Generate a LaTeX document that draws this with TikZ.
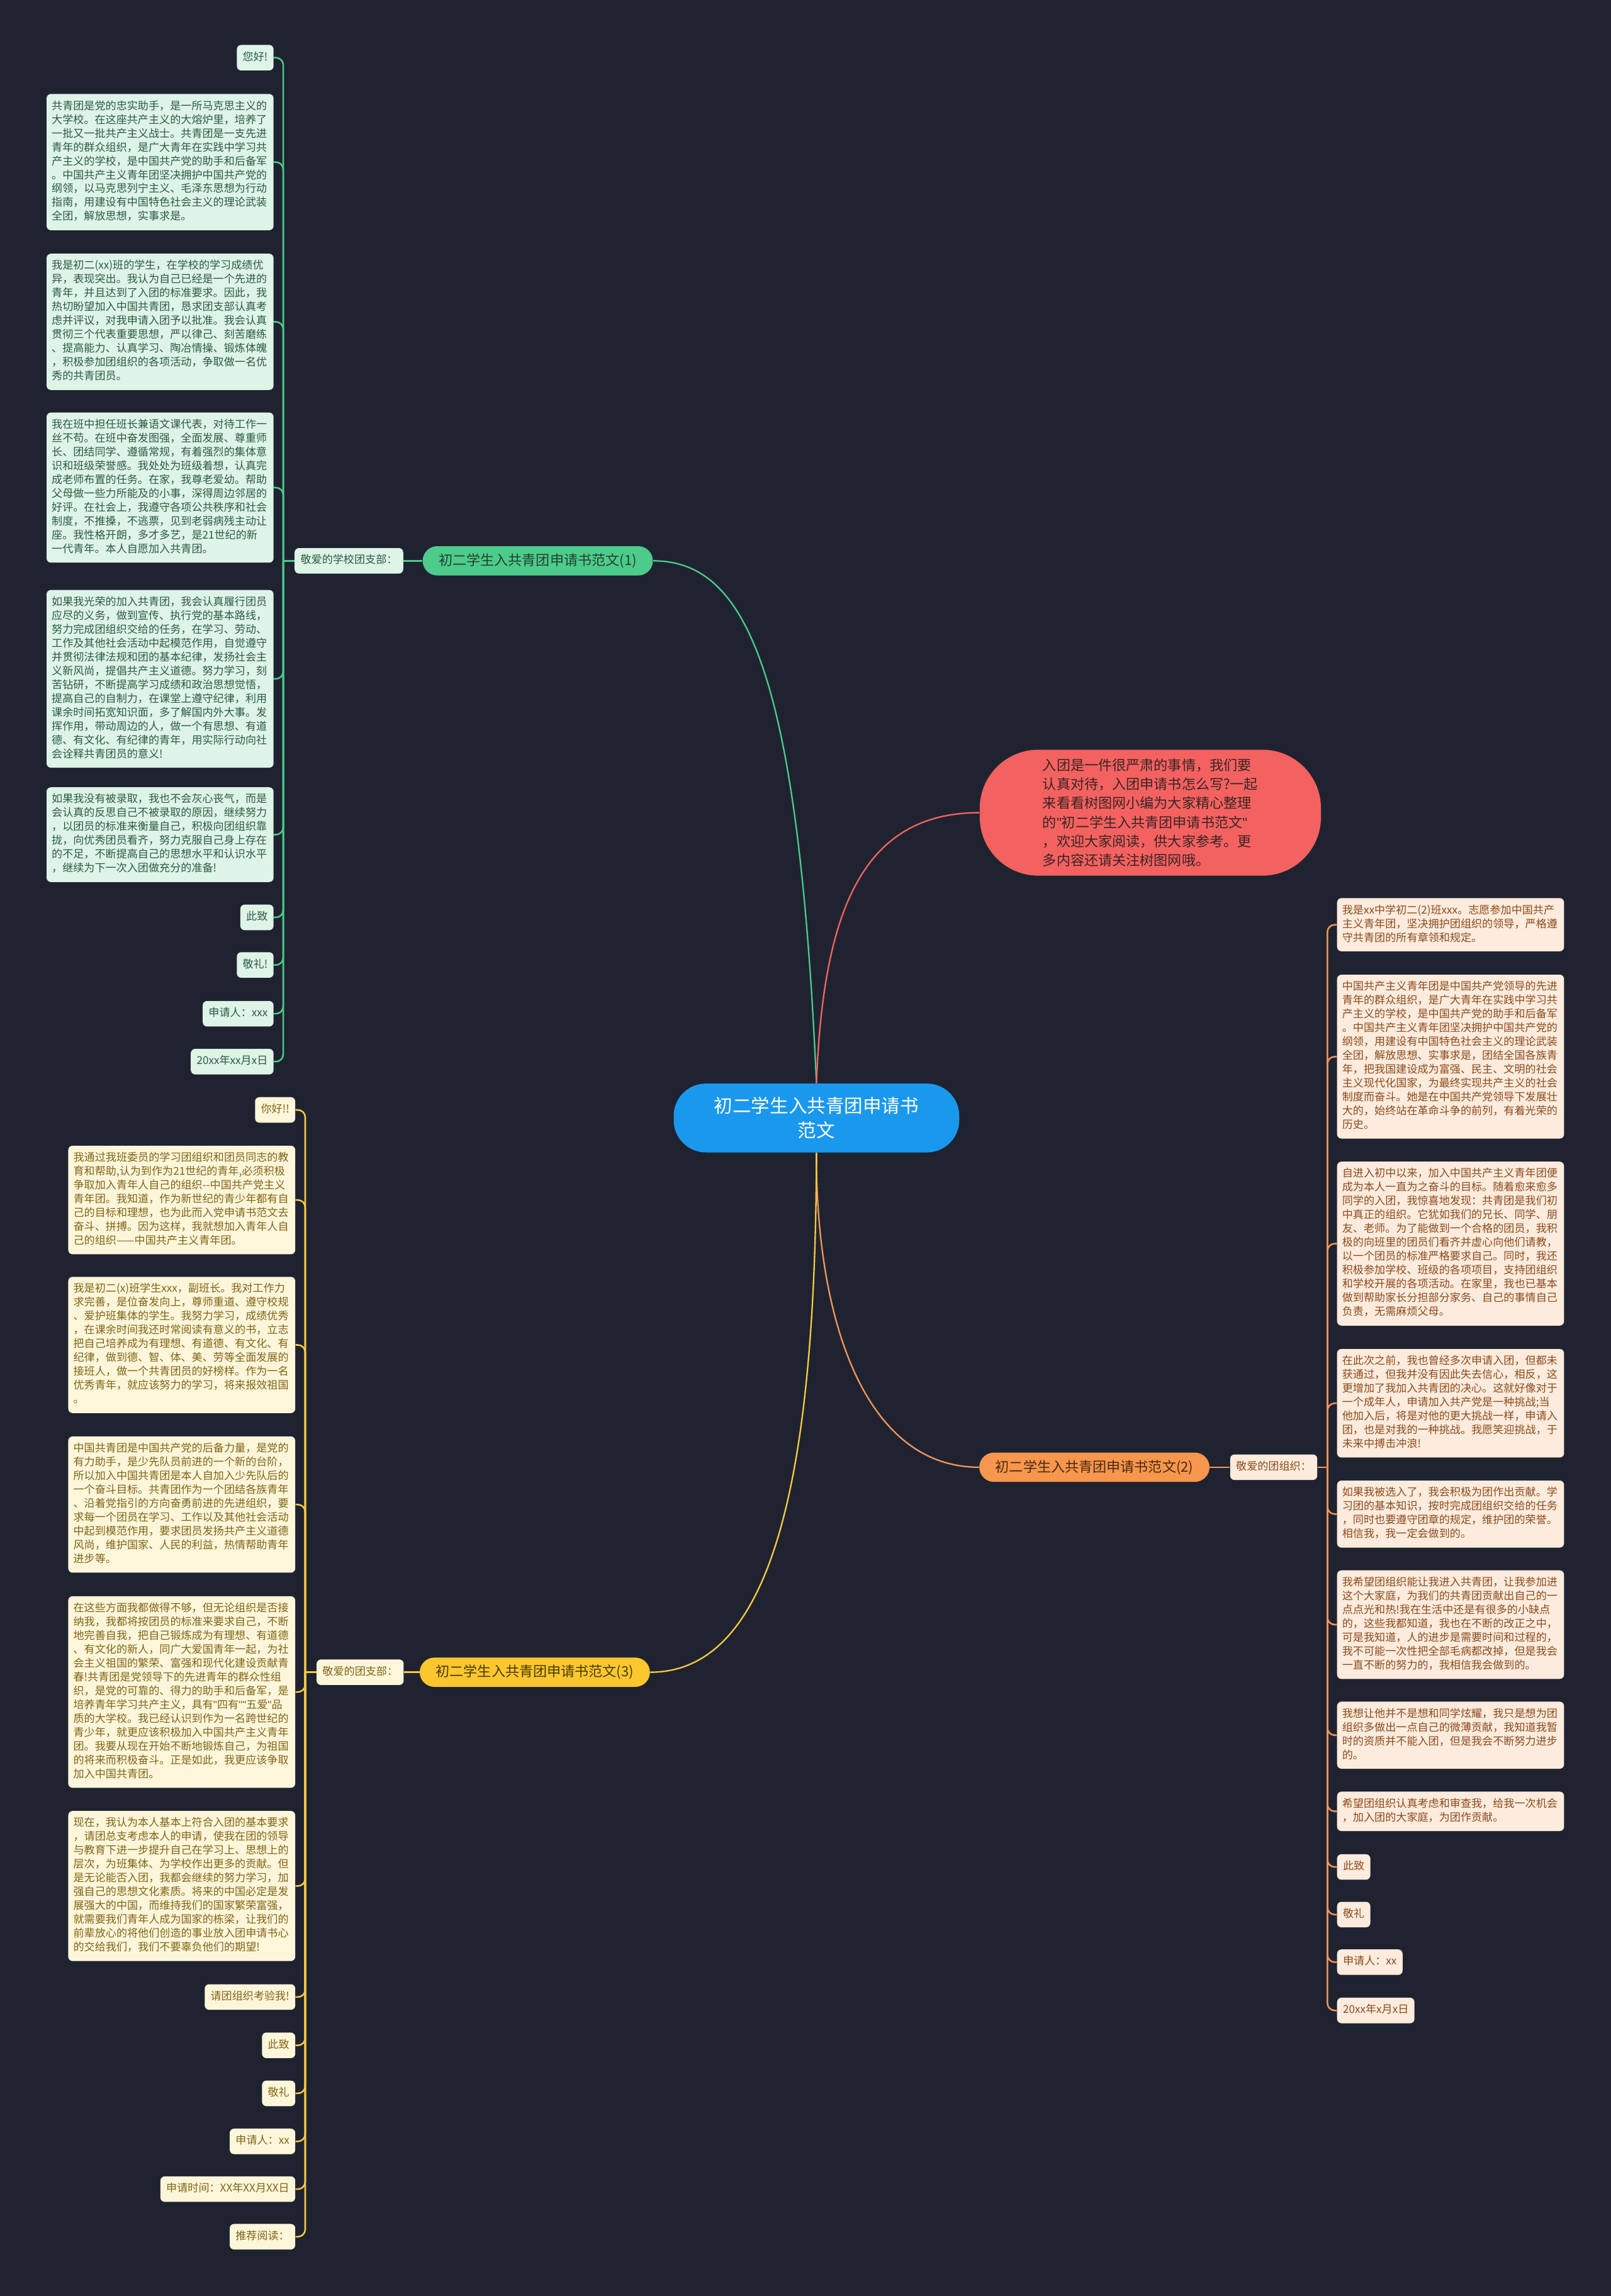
\documentclass[tikz,border=0pt]{standalone}
\usepackage{fontspec}
\setmainfont{Noto Sans CJK SC}
\newfontfamily\qfont{Liberation Sans}
\newcommand{\qq}{{\qfont"}}
\definecolor{bg}{HTML}{1F2330}
\definecolor{cblue}{HTML}{1A98EE}
\definecolor{cred}{HTML}{F36260}
\definecolor{credtext}{HTML}{3A2424}
\definecolor{gpill}{HTML}{4CCB8B}
\definecolor{gpilltext}{HTML}{22402F}
\definecolor{gfill}{HTML}{DDF4E7}
\definecolor{gtext}{HTML}{2E5A43}
\definecolor{gl}{HTML}{4CC98A}
\definecolor{opill}{HTML}{F7964D}
\definecolor{opilltext}{HTML}{4A2A10}
\definecolor{ofill}{HTML}{FDEBDD}
\definecolor{otext}{HTML}{8A4B1C}
\definecolor{ol}{HTML}{F0955A}
\definecolor{ypill}{HTML}{FAC72E}
\definecolor{ypilltext}{HTML}{4A3A05}
\definecolor{yfill}{HTML}{FDF6DA}
\definecolor{ytext}{HTML}{806418}
\definecolor{yl}{HTML}{F5C842}
\tikzset{
  leafbase/.style={rounded corners=3pt, inner xsep=4pt, inner ysep=4pt,
    font=\fontsize{7.35}{9.45}\selectfont, align=left,
    execute at begin node=\strut, execute at end node=\strut},
  wide/.style={text width=148pt, inner xsep=3.5pt},
  gleaf/.style={leafbase, fill=gfill, text=gtext, anchor=east},
  oleaf/.style={leafbase, fill=ofill, text=otext, anchor=west},
  yleaf/.style={leafbase, fill=yfill, text=ytext, anchor=east},
  pill/.style={rounded corners=10pt, minimum height=20pt, inner xsep=11pt, inner ysep=2pt,
    font=\fontsize{9.5}{11}\selectfont},
  gline/.style={draw=gl, line width=1.1pt},
  oline/.style={draw=ol, line width=1.1pt},
  yline/.style={draw=yl, line width=1.1pt},
  elbow/.style={rounded corners=5pt},
}
\begin{document}
\begin{tikzpicture}[x=1pt,y=-1pt]
\useasboundingbox (0,0) rectangle (1100,1568);
\fill[bg] (0,0) rectangle (1100,1568);

% center and intro
\node[fill=cblue, text=white, rounded corners=22pt, minimum width=195pt, minimum height=47pt,
  align=center, font=\fontsize{12.7}{17}\selectfont] (ctr) at (557.5,763.5)
  {初二学生入共青团申请书\\范文};
\node[fill=cred, text=credtext, rounded corners=40pt, minimum width=233pt, minimum height=86pt,
  align=left, font=\fontsize{9.5}{13}\selectfont] (intro) at (785.5,555)
  {入团是一件很严肃的事情，我们要\\认真对待，入团申请书怎么写?一起\\来看看树图网小编为大家精心整理\\的\qq 初二学生入共青团申请书范文\qq\\，欢迎大家阅读，供大家参考。更\\多内容还请关注树图网哦。};

% ---------------- green branch (1)
\node[pill, fill=gpill, text=gpilltext, anchor=east] (gP) at (446,383) {初二学生入共青团申请书范文(1)};
\node[leafbase, fill=gfill, text=gtext, anchor=west] (gL) at (201,383) {敬爱的学校团支部：};
\coordinate (gJ) at (193.4,383);

\node[gleaf] (g0) at (187,39.4) {您好!};
\node[gleaf, wide] (g1) at (187,110.7) {共青团是党的忠实助手，是一所马克思主义的\\大学校。在这座共产主义的大熔炉里，培养了\\一批又一批共产主义战士。共青团是一支先进\\青年的群众组织，是广大青年在实践中学习共\\产主义的学校，是中国共产党的助手和后备军\\。中国共产主义青年团坚决拥护中国共产党的\\纲领，以马克思列宁主义、毛泽东思想为行动\\指南，用建设有中国特色社会主义的理论武装\\全团，解放思想，实事求是。};
\node[gleaf, wide] (g2) at (187,219.8) {我是初二(xx)班的学生，在学校的学习成绩优\\异，表现突出。我认为自己已经是一个先进的\\青年，并且达到了入团的标准要求。因此，我\\热切盼望加入中国共青团，恳求团支部认真考\\虑并评议，对我申请入团予以批准。我会认真\\贯彻三个代表重要思想，严以律己、刻苦磨练\\、提高能力、认真学习、陶冶情操、锻炼体魄\\，积极参加团组织的各项活动，争取做一名优\\秀的共青团员。};
\node[gleaf, wide] (g3) at (187,333) {我在班中担任班长兼语文课代表，对待工作一\\丝不苟。在班中奋发图强，全面发展、尊重师\\长、团结同学、遵循常规，有着强烈的集体意\\识和班级荣誉感。我处处为班级着想，认真完\\成老师布置的任务。在家，我尊老爱幼。帮助\\父母做一些力所能及的小事，深得周边邻居的\\好评。在社会上，我遵守各项公共秩序和社会\\制度，不推搡，不逃票，见到老弱病残主动让\\座。我性格开朗，多才多艺，是21世纪的新\\一代青年。本人自愿加入共青团。};
\node[gleaf, wide] (g4) at (187,463.6) {如果我光荣的加入共青团，我会认真履行团员\\应尽的义务，做到宣传、执行党的基本路线，\\努力完成团组织交给的任务，在学习、劳动、\\工作及其他社会活动中起模范作用，自觉遵守\\并贯彻法律法规和团的基本纪律，发扬社会主\\义新风尚，提倡共产主义道德。努力学习，刻\\苦钻研，不断提高学习成绩和政治思想觉悟，\\提高自己的自制力，在课堂上遵守纪律，利用\\课余时间拓宽知识面，多了解国内外大事。发\\挥作用，带动周边的人，做一个有思想、有道\\德、有文化、有纪律的青年，用实际行动向社\\会诠释共青团员的意义!};
\node[gleaf, wide] (g5) at (187,570) {如果我没有被录取，我也不会灰心丧气，而是\\会认真的反思自己不被录取的原因，继续努力\\，以团员的标准来衡量自己，积极向团组织靠\\拢，向优秀团员看齐，努力克服自己身上存在\\的不足，不断提高自己的思想水平和认识水平\\，继续为下一次入团做充分的准备!};
\node[gleaf] (g6) at (187,626.5) {此致};
\node[gleaf] (g7) at (187,659) {敬礼!};
\node[gleaf] (g8) at (187,692.3) {申请人：xxx};
\node[gleaf] (g9) at (187,725) {20xx年xx月x日};

\draw[gline] (gL.east) -- (gP.west);
\draw[gline] (gL.west) -- (gJ);
\foreach \n in {g0,g1,g2,g3,g4,g5,g6,g7,g8,g9}
  \draw[gline, elbow] (gJ) |- (\n.east);

% ---------------- orange branch (2)
\node[pill, fill=opill, text=opilltext, anchor=west] (oP) at (668.5,1002) {初二学生入共青团申请书范文(2)};
\node[leafbase, fill=ofill, text=otext, anchor=west] (oL) at (839.8,1002) {敬爱的团组织：};
\coordinate (oJ) at (906.4,1002);

\node[oleaf, wide] (o1) at (912.8,631.5) {我是xx中学初二(2)班xxx。志愿参加中国共产\\主义青年团，坚决拥护团组织的领导，严格遵\\守共青团的所有章领和规定。};
\node[oleaf, wide] (o2) at (912.8,721.6) {中国共产主义青年团是中国共产党领导的先进\\青年的群众组织，是广大青年在实践中学习共\\产主义的学校，是中国共产党的助手和后备军\\。中国共产主义青年团坚决拥护中国共产党的\\纲领，用建设有中国特色社会主义的理论武装\\全团，解放思想、实事求是，团结全国各族青\\年，把我国建设成为富强、民主、文明的社会\\主义现代化国家，为最终实现共产主义的社会\\制度而奋斗。她是在中国共产党领导下发展壮\\大的，始终站在革命斗争的前列，有着光荣的\\历史。};
\node[oleaf, wide] (o3) at (912.8,849.3) {自进入初中以来，加入中国共产主义青年团便\\成为本人一直为之奋斗的目标。随着愈来愈多\\同学的入团，我惊喜地发现：共青团是我们初\\中真正的组织。它犹如我们的兄长、同学、朋\\友、老师。为了能做到一个合格的团员，我积\\极的向班里的团员们看齐并虚心向他们请教，\\以一个团员的标准严格要求自己。同时，我还\\积极参加学校、班级的各项项目，支持团组织\\和学校开展的各项活动。在家里，我也已基本\\做到帮助家长分担部分家务、自己的事情自己\\负责，无需麻烦父母。};
\node[oleaf, wide] (o4) at (912.8,958.3) {在此次之前，我也曾经多次申请入团，但都未\\获通过，但我并没有因此失去信心，相反，这\\更增加了我加入共青团的决心。这就好像对于\\一个成年人，申请加入共产党是一种挑战;当\\他加入后，将是对他的更大挑战一样，申请入\\团，也是对我的一种挑战。我愿笑迎挑战，于\\未来中搏击冲浪!};
\node[oleaf, wide] (o5) at (912.8,1034) {如果我被选入了，我会积极为团作出贡献。学\\习团的基本知识，按时完成团组织交给的任务\\，同时也要遵守团章的规定，维护团的荣誉。\\相信我，我一定会做到的。};
\node[oleaf, wide] (o6) at (912.8,1109.5) {我希望团组织能让我进入共青团，让我参加进\\这个大家庭，为我们的共青团贡献出自己的一\\点点光和热!我在生活中还是有很多的小缺点\\的，这些我都知道，我也在不断的改正之中，\\可是我知道，人的进步是需要时间和过程的，\\我不可能一次性把全部毛病都改掉，但是我会\\一直不断的努力的，我相信我会做到的。};
\node[oleaf, wide] (o7) at (912.8,1185) {我想让他并不是想和同学炫耀，我只是想为团\\组织多做出一点自己的微薄贡献，我知道我暂\\时的资质并不能入团，但是我会不断努力进步\\的。};
\node[oleaf, wide] (o8) at (912.8,1237) {希望团组织认真考虑和审查我，给我一次机会\\，加入团的大家庭，为团作贡献。};
\node[oleaf] (o9) at (912.8,1275) {此致};
\node[oleaf] (o10) at (912.8,1307.5) {敬礼};
\node[oleaf] (o11) at (912.8,1340) {申请人：xx};
\node[oleaf] (o12) at (912.8,1373) {20xx年x月x日};

\draw[oline] (oP.east) -- (oL.west);
\draw[oline] (oL.east) -- (oJ);
\foreach \n in {o1,o2,o3,o4,o5,o6,o7,o8,o9,o10,o11,o12}
  \draw[oline, elbow] (oJ) |- (\n.west);

% ---------------- yellow branch (3)
\node[pill, fill=ypill, text=ypilltext, anchor=east] (yP) at (444,1142) {初二学生入共青团申请书范文(3)};
\node[leafbase, fill=yfill, text=ytext, anchor=west] (yL) at (216,1142) {敬爱的团支部：};
\coordinate (yJ) at (208.4,1142);

\node[yleaf] (y0) at (201.8,758) {你好!!};
\node[yleaf, wide] (y1) at (201.8,819.5) {我通过我班委员的学习团组织和团员同志的教\\育和帮助,认为到作为21世纪的青年,必须积极\\争取加入青年人自己的组织-{}-中国共产党主义\\青年团。我知道，作为新世纪的青少年都有自\\己的目标和理想，也为此而入党申请书范文去\\奋斗、拼搏。因为这样，我就想加入青年人自\\己的组织——中国共产主义青年团。};
\node[yleaf, wide] (y2) at (201.8,918.5) {我是初二(x)班学生xxx，副班长。我对工作力\\求完善，是位奋发向上，尊师重道、遵守校规\\、爱护班集体的学生。我努力学习，成绩优秀\\，在课余时间我还时常阅读有意义的书，立志\\把自己培养成为有理想、有道德、有文化、有\\纪律，做到德、智、体、美、劳等全面发展的\\接班人，做一个共青团员的好榜样。作为一名\\优秀青年，就应该努力的学习，将来报效祖国\\。};
\node[yleaf, wide] (y3) at (201.8,1027.5) {中国共青团是中国共产党的后备力量，是党的\\有力助手，是少先队员前进的一个新的台阶，\\所以加入中国共青团是本人自加入少先队后的\\一个奋斗目标。共青团作为一个团结各族青年\\、沿着党指引的方向奋勇前进的先进组织，要\\求每一个团员在学习、工作以及其他社会活动\\中起到模范作用，要求团员发扬共产主义道德\\风尚，维护国家、人民的利益，热情帮助青年\\进步等。};
\node[yleaf, wide] (y4) at (201.8,1155.5) {在这些方面我都做得不够，但无论组织是否接\\纳我，我都将按团员的标准来要求自己，不断\\地完善自我，把自己锻炼成为有理想、有道德\\、有文化的新人，同广大爱国青年一起，为社\\会主义祖国的繁荣、富强和现代化建设贡献青\\春!共青团是党领导下的先进青年的群众性组\\织，是党的可靠的、得力的助手和后备军，是\\培养青年学习共产主义，具有\qq 四有\qq\qq 五爱\qq 品\\质的大学校。我已经认识到作为一名跨世纪的\\青少年，就更应该积极加入中国共产主义青年\\团。我要从现在开始不断地锻炼自己，为祖国\\的将来而积极奋斗。正是如此，我更应该争取\\加入中国共青团。};
\node[yleaf, wide] (y5) at (201.8,1288) {现在，我认为本人基本上符合入团的基本要求\\，请团总支考虑本人的申请，使我在团的领导\\与教育下进一步提升自己在学习上、思想上的\\层次，为班集体、为学校作出更多的贡献。但\\是无论能否入团，我都会继续的努力学习，加\\强自己的思想文化素质。将来的中国必定是发\\展强大的中国，而维持我们的国家繁荣富强，\\就需要我们青年人成为国家的栋梁，让我们的\\前辈放心的将他们创造的事业放入团申请书心\\的交给我们，我们不要辜负他们的期望!};
\node[yleaf] (y6) at (201.8,1363.8) {请团组织考验我!};
\node[yleaf] (y7) at (201.8,1396.8) {此致};
\node[yleaf] (y8) at (201.8,1429.6) {敬礼};
\node[yleaf] (y9) at (201.8,1462.4) {申请人：xx};
\node[yleaf] (y10) at (201.8,1495) {申请时间：XX年XX月XX日};
\node[yleaf] (y11) at (201.8,1527.5) {推荐阅读：};

\draw[yline] (yL.east) -- (yP.west);
\draw[yline] (yL.west) -- (yJ);
\foreach \n in {y0,y1,y2,y3,y4,y5,y6,y7,y8,y9,y10,y11}
  \draw[yline, elbow] (yJ) |- (\n.east);

% ---------------- main connectors
\draw[draw=gl, line width=1pt] (ctr.north) .. controls (545,460) and (510,383) .. (gP.east);
\draw[draw=cred, line width=1pt] (ctr.north) .. controls (562,620) and (590,555) .. (intro.west);
\draw[draw=ol, line width=1pt] (ctr.south) .. controls (557,900) and (590,1002) .. (oP.west);
\draw[draw=yl, line width=1pt] (ctr.south) .. controls (557,1000) and (530,1142) .. (yP.east);
\end{tikzpicture}
\end{document}
